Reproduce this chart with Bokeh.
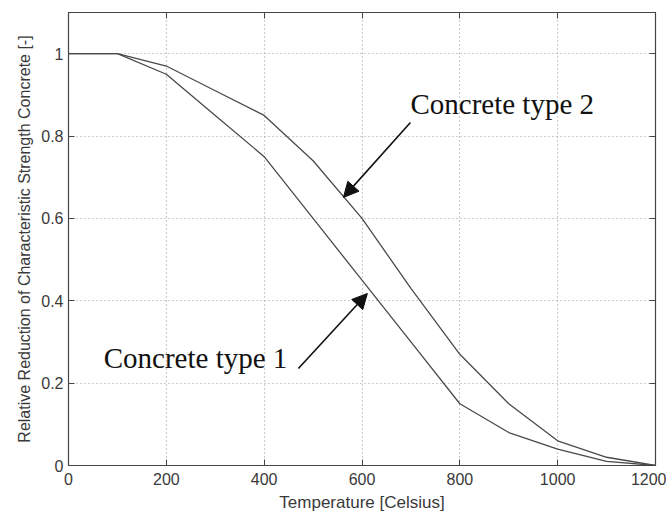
from bokeh.plotting import figure
from bokeh.models import (FixedTicker, LinearAxis, Range1d, Label, Arrow, NormalHead)
from bokeh.embed import file_html
from bokeh.resources import INLINE

# Temperature [°C] and relative strength reduction factors
temperature = [0, 100, 200, 300, 400, 500, 600, 700, 800, 900, 1000, 1100, 1200]
concrete_type1 = [1.0, 1.0, 0.95, 0.85, 0.75, 0.60, 0.45, 0.30, 0.15, 0.08, 0.04, 0.01, 0.0]
concrete_type2 = [1.0, 1.0, 0.97, 0.91, 0.85, 0.74, 0.60, 0.43, 0.27, 0.15, 0.06, 0.02, 0.0]

x_ticks = [0, 200, 400, 600, 800, 1000, 1200]
y_ticks = [0, 0.2, 0.4, 0.6, 0.8, 1.0]
y_tick_labels = ["0", "0.2", "0.4", "0.6", "0.8", "1"]

# Annotation positions (data coordinates)
label2_pos = (699, 0.879)
arrow2 = (699, 0.833, 562, 0.651)
label1_pos = (72, 0.262)
arrow1 = (470, 0.2355, 611, 0.4177)

AX_FONT = "Liberation Sans"
TXT = "#3a3a3a"
LINE = "#4a4a4a"

p = figure(frame_width=587, frame_height=453, output_backend="svg", toolbar_location=None,
           x_range=Range1d(0, 1200), y_range=Range1d(0, 1.1),
           min_border_left=68, min_border_right=11, min_border_top=12, min_border_bottom=49,
           x_axis_label="Temperature [Celsius]",
           y_axis_label="Relative Reduction of Characteristic Strength Concrete [-]")

p.background_fill_color = "white"
p.border_fill_color = "white"
p.outline_line_color = "#444444"
p.outline_line_width = 1.2

for ax, ticks in ((p.xaxis[0], x_ticks), (p.yaxis[0], y_ticks)):
    ax.ticker = FixedTicker(ticks=ticks)
    ax.major_tick_in = 6
    ax.major_tick_out = 0
    ax.minor_tick_line_color = None
    ax.axis_line_color = None
    ax.major_tick_line_color = "#444444"
    ax.major_label_text_font = AX_FONT
    ax.major_label_text_font_size = "16px"
    ax.major_label_text_color = TXT
    ax.axis_label_text_font = AX_FONT
    ax.axis_label_text_font_style = "normal"
    ax.axis_label_text_color = TXT

p.xaxis[0].axis_label_text_font_size = "17px"
p.yaxis[0].axis_label_text_font_size = "16px"
p.yaxis[0].major_label_overrides = {t: s for t, s in zip(y_ticks, y_tick_labels)}
p.xaxis[0].major_label_standoff = 7
p.xaxis[0].axis_label_standoff = 5
p.yaxis[0].major_label_standoff = 5
p.yaxis[0].axis_label_standoff = 5

# Inward ticks on the top and right edges of the box
for side, ticks in (("above", x_ticks), ("right", y_ticks)):
    ax = LinearAxis(ticker=FixedTicker(ticks=ticks), major_tick_in=6, major_tick_out=0,
                    minor_tick_line_color=None, axis_line_color=None,
                    major_tick_line_color="#444444", major_label_text_font_size="0px",
                    major_label_standoff=0)
    p.add_layout(ax, side)

p.xgrid.ticker = FixedTicker(ticks=x_ticks)
p.ygrid.ticker = FixedTicker(ticks=y_ticks)
for g in (p.xgrid[0], p.ygrid[0]):
    g.grid_line_color = "#9a9a9a"
    g.grid_line_dash = "1 3"
    g.grid_line_width = 1.2

p.line(temperature, concrete_type1, line_color=LINE, line_width=1.3)
p.line(temperature, concrete_type2, line_color=LINE, line_width=1.3)

for (x, y), txt in ((label2_pos, "Concrete type 2"), (label1_pos, "Concrete type 1")):
    p.add_layout(Label(x=x, y=y, text=txt, text_font="Liberation Serif",
                       text_font_size="29px", text_color="#111111",
                       text_baseline="middle", text_align="left"))

for xs, ys, xe, ye in (arrow2, arrow1):
    p.add_layout(Arrow(end=NormalHead(size=15, fill_color="#111111", line_color="#111111"),
                       x_start=xs, y_start=ys, x_end=xe, y_end=ye,
                       line_color="#111111", line_width=1.6))

open("out.html", "w").write(file_html(p, INLINE))
